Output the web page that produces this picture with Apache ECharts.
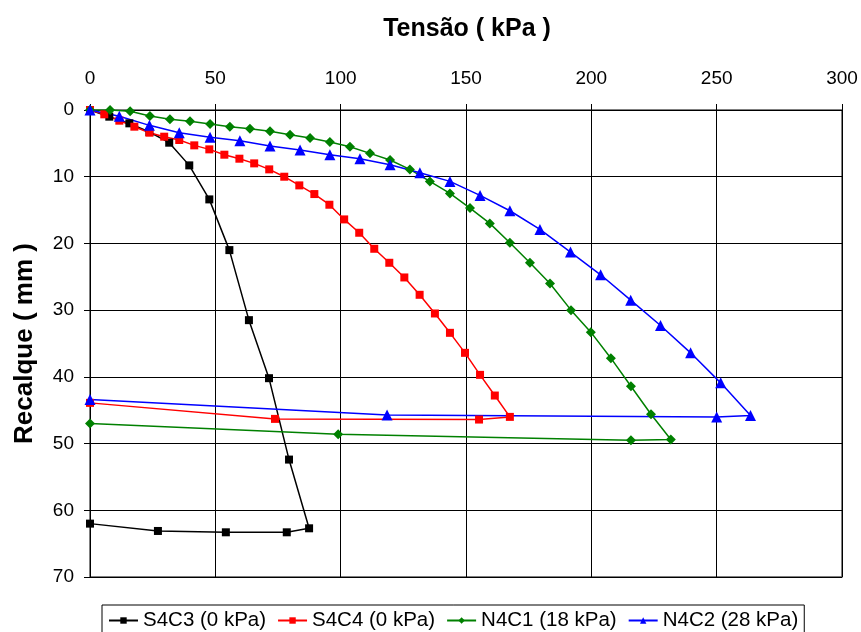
<!DOCTYPE html>
<html>
<head>
<meta charset="utf-8">
<script src="https://cdn.jsdelivr.net/npm/echarts@6/dist/echarts.min.js"></script>
<style>
  html, body { margin: 0; padding: 0; background: #fff; }
  #main { width: 861px; height: 632px; }
</style>
</head>
<body>
<div id="main"></div>
<script>
// legend names
let seriesNames = ['S4C3 (0 kPa)', 'S4C4 (0 kPa)', 'N4C1 (18 kPa)', 'N4C2 (28 kPa)']

// [tensão kPa, recalque mm]
let s4c3 = [[0, 0], [7.7, 1.0], [15.7, 2.0], [23.7, 3.3], [31.6, 4.9], [39.6, 8.3], [47.6, 13.4],
    [55.6, 21.0], [63.4, 31.5], [71.4, 40.2], [79.4, 52.4], [87.4, 62.7],
    [78.5, 63.3], [54.2, 63.3], [27.1, 63.1], [0, 62.0]]

let s4c4 = [[0, 0], [5.7, 0.65], [11.7, 1.6], [17.7, 2.5], [23.7, 3.4], [29.6, 4.0], [35.6, 4.5],
    [41.6, 5.3], [47.6, 5.9], [53.6, 6.7], [59.6, 7.3], [65.5, 8.0], [71.5, 8.9], [77.5, 10.0],
    [83.5, 11.3], [89.5, 12.6], [95.5, 14.2], [101.4, 16.4], [107.4, 18.4], [113.4, 20.8],
    [119.4, 22.9], [125.4, 25.1], [131.5, 27.7], [137.6, 30.5], [143.6, 33.4], [149.6, 36.4],
    [155.6, 39.7], [161.5, 42.8], [167.5, 46.0], [155.2, 46.4], [73.8, 46.3], [0, 43.9]]

let n4c1 = [[0, 0], [8.0, 0], [16.0, 0.2], [23.9, 0.9], [31.9, 1.4], [39.9, 1.7], [47.9, 2.1],
    [55.8, 2.5], [63.8, 2.8], [71.8, 3.2], [79.8, 3.7], [87.8, 4.2], [95.7, 4.8], [103.7, 5.5],
    [111.7, 6.5], [119.7, 7.5], [127.6, 8.9], [135.6, 10.7], [143.6, 12.5], [151.6, 14.7],
    [159.5, 17.0], [167.5, 19.9], [175.5, 22.9], [183.5, 26.0], [191.9, 30.0], [199.8, 33.3],
    [207.8, 37.2], [215.8, 41.4], [223.8, 45.6], [231.7, 49.4], [215.8, 49.5], [99.0, 48.6], [0, 47.0]]

let n4c2 = [[0, 0], [11.7, 0.95], [23.7, 2.3], [35.6, 3.4], [47.9, 4.1], [59.8, 4.6], [71.8, 5.4],
    [83.8, 6.0], [95.7, 6.7], [107.7, 7.3], [119.7, 8.2], [131.6, 9.4], [143.6, 10.7],
    [155.6, 12.8], [167.5, 15.1], [179.5, 17.9], [191.7, 21.3], [203.7, 24.7], [215.7, 28.5],
    [227.6, 32.3], [239.6, 36.4], [251.6, 40.9], [263.5, 45.8], [250.0, 46.0], [118.5, 45.7], [0, 43.4]]

let seriesData = [s4c3, s4c4, n4c1, n4c2]
let colors = ['#000000', '#ff0000', '#008000', '#0000ff']
let symbols = ['rect', 'rect', 'diamond', 'triangle']
let symbolSizes = [8, 8, 10, 11]

let font = "'Liberation Sans', Arial, sans-serif"

let myChart = echarts.init(document.getElementById('main'))

let option = {
    animation: false,
    title: {
        text: 'Tensão ( kPa )',
        left: 462,
        top: 12,
        textAlign: 'center',
        textStyle: { fontFamily: font, fontSize: 25, fontWeight: 'bold', color: '#000' }
    },
    legend: {
        data: seriesNames,
        left: 102,
        top: 605,
        padding: [5, 6],
        itemGap: 11,
        itemWidth: 29,
        itemHeight: 8,
        borderColor: '#000',
        borderWidth: 1,
        textStyle: { fontFamily: font, fontSize: 20.5, color: '#000' }
    },
    grid: {
        left: 90,
        top: 110,
        width: 752,
        height: 467,
        outerBoundsMode: 'none',
        containLabel: false,
        show: true,
        borderColor: '#555',
        borderWidth: 1.5
    },
    xAxis: {
        type: 'value',
        position: 'top',
        min: 0,
        max: 300,
        interval: 50,
        axisLine: { show: true, lineStyle: { color: '#000', width: 1 } },
        axisTick: { show: true, length: 6, lineStyle: { color: '#000' } },
        axisLabel: { fontFamily: font, fontSize: 19, color: '#000', margin: 22 },
        splitLine: { show: true, lineStyle: { color: '#000', width: 1 } }
    },
    yAxis: {
        type: 'value',
        inverse: true,
        min: 0,
        max: 70,
        interval: 10,
        name: 'Recalque ( mm )',
        nameLocation: 'middle',
        nameRotate: 90,
        nameGap: 52,
        nameTextStyle: { fontFamily: font, fontSize: 26, fontWeight: 'bold', color: '#000' },
        axisLine: { show: true, lineStyle: { color: '#000', width: 1 } },
        axisTick: { show: true, length: 6, lineStyle: { color: '#000' } },
        axisLabel: { fontFamily: font, fontSize: 19, color: '#000', margin: 16 },
        splitLine: { show: true, lineStyle: { color: '#000', width: 1 } }
    },
    series: []
}

seriesData.forEach((d, i) => {
    option.series.push({
        name: seriesNames[i],
        type: 'line',
        data: d,
        symbol: symbols[i],
        symbolSize: symbolSizes[i],
        showAllSymbol: true,
        color: colors[i],
        lineStyle: { width: 1.5, color: colors[i] },
        itemStyle: { color: colors[i] }
    })
})

myChart.setOption(option)
</script>
</body>
</html>
